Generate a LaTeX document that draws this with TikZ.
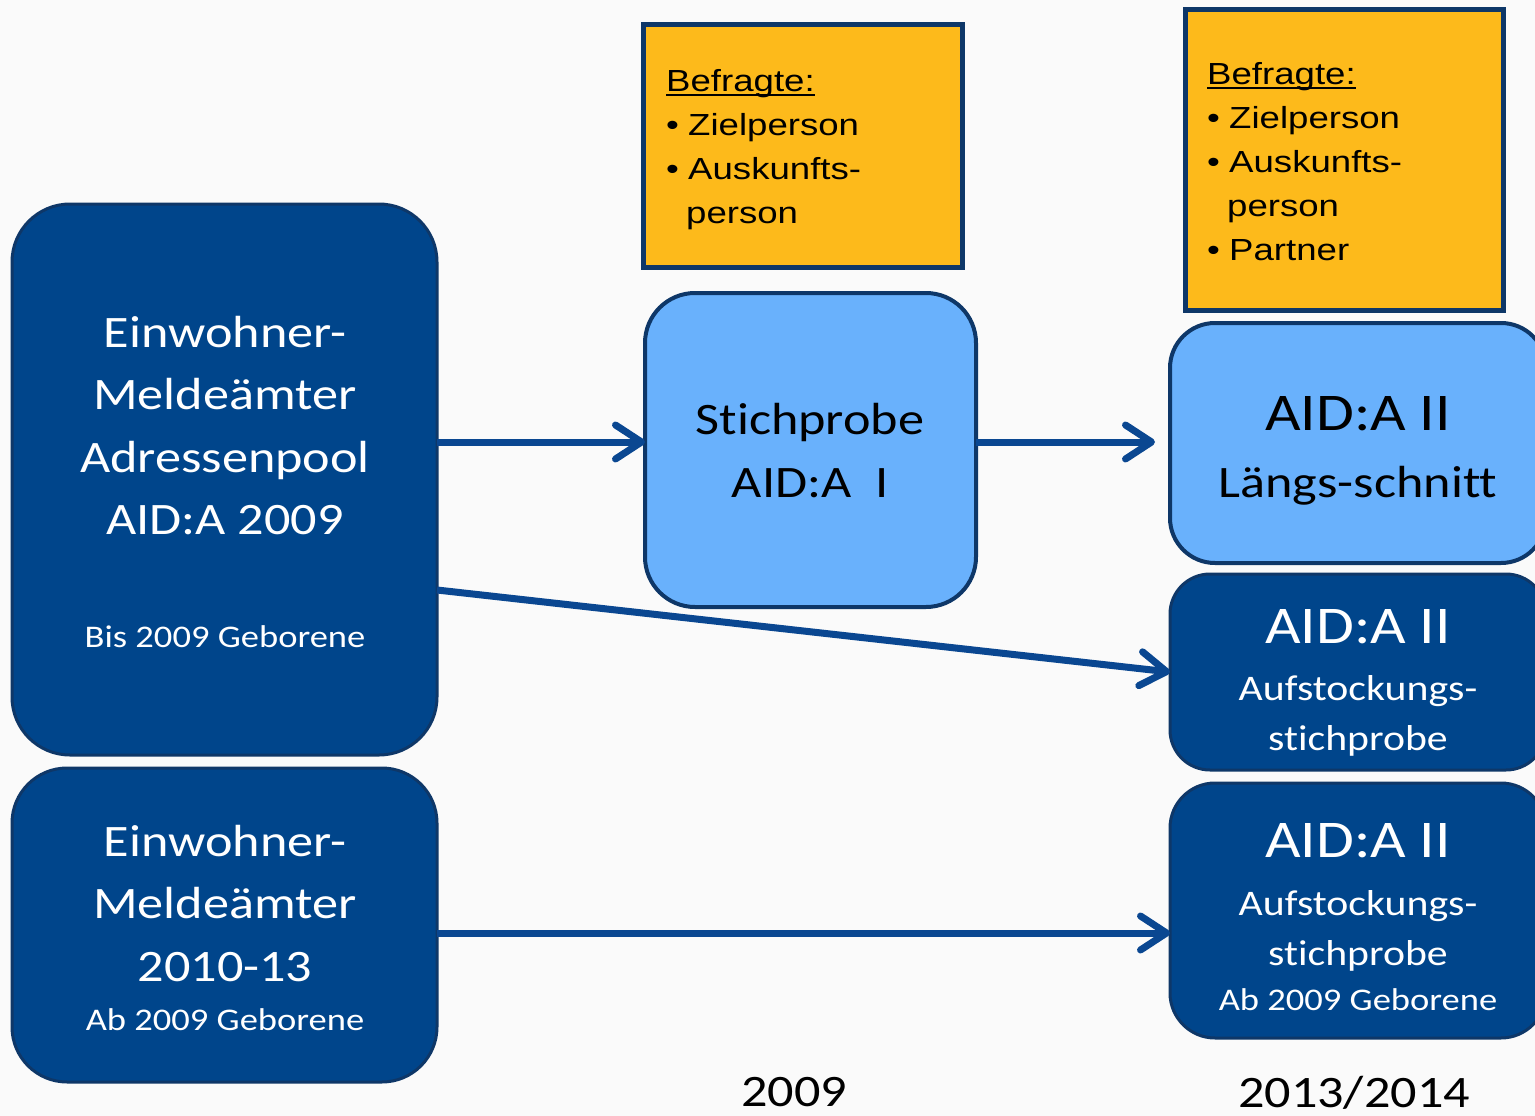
\documentclass[tikz,border=0pt]{standalone}
\usepackage{fontspec}
\setmainfont[FakeStretch=1.16, Ligatures={NoCommon}]{Carlito}
\newfontfamily\arialf[FakeStretch=1.2]{Liberation Sans}
\usetikzlibrary{arrows.meta}
\definecolor{darkfill}{HTML}{00458B}
\definecolor{boxedge}{HTML}{0E3768}
\definecolor{lightfill}{HTML}{69B1FC}
\definecolor{orangefill}{HTML}{FDBA1B}
\definecolor{arrowcol}{HTML}{0A4791}
\definecolor{bgcol}{HTML}{FAFAFA}
\newcommand{\ulword}[1]{\leavevmode\rlap{\rule[-5pt]{\widthof{#1}}{2.2pt}}#1}
\usepackage{calc}
\begin{document}
\begin{tikzpicture}[x=1pt,y=-1pt,
  darkbox/.style={draw=boxedge, line width=3pt, fill=darkfill, rectangle, inner sep=0pt, outer sep=0pt},
  lightbox/.style={draw=boxedge, line width=4pt, fill=lightfill, rectangle, inner sep=0pt, outer sep=0pt},
  orangebox/.style={draw=boxedge, line width=5pt, fill=orangefill, rectangle, inner sep=0pt, outer sep=0pt},
  wtxt/.style={text=white, align=center, inner sep=0pt, anchor=base},
  btxt/.style={text=black, align=center, inner sep=0pt, anchor=base},
  otxt/.style={text=black, align=left, inner sep=0pt, anchor=base west, font=\arialf\fontsize{30.5}{44}\selectfont},
  arr/.style={draw=arrowcol, line width=7pt, -{Straight Barb[length=26pt,width=34pt,round]}},
  big/.style={font=\fontsize{45}{62.5}\selectfont},
  mid/.style={font=\fontsize{36}{50}\selectfont},
  small/.style={font=\fontsize{31.5}{40}\selectfont},
  huge/.style={font=\fontsize{53}{62}\selectfont}
]
\useasboundingbox (0,0) rectangle (1535,1116);
\fill[bgcol] (0,0) rectangle (1535,1116);
\clip (0,0) rectangle (1535,1116);

% boxes
\node[darkbox, rounded corners=58pt, minimum width=425pt, minimum height=551pt] (box1) at (224.5,479.5) {};
\node[darkbox, rounded corners=55pt, minimum width=425pt, minimum height=314pt] (box2) at (224.5,925) {};
\node[lightbox, rounded corners=50pt, minimum width=331pt, minimum height=314pt] (stich) at (810.5,450) {};
\node[lightbox, rounded corners=45pt, minimum width=376pt, minimum height=240pt] (laengs) at (1358,443) {};
\node[darkbox, rounded corners=40pt, minimum width=376pt, minimum height=196pt] (auf1) at (1358,672) {};
\node[darkbox, rounded corners=45pt, minimum width=376pt, minimum height=255pt] (auf2) at (1358,910.5) {};
\node[orangebox, minimum width=319pt, minimum height=242pt] (or1) at (802.5,146) {};
\node[orangebox, minimum width=318pt, minimum height=300pt] (or2) at (1344,160) {};

% texts (anchor base = baseline of the last line)
\node[wtxt, big] (t1) at (225,534.5) {Einwohner-\\Meldeämter\\Adressenpool\\AID:A 2009};
\node[wtxt, small] (t1b) at (225,647) {Bis 2009 Geborene};
\node[wtxt, big] (t2) at (225,981) {Einwohner-\\Meldeämter\\2010-13};
\node[wtxt, small] (t2b) at (225,1030) {Ab 2009 Geborene};
\node[btxt, big] (t3) at (810,497) {Stichprobe\\AID:A\ \ I};
\node[btxt, huge] (t4) at (1358,430) {AID:A II};
\node[btxt, big] (t4b) at (1358,497) {Längs-schnitt};
\node[wtxt, huge] (t5) at (1358,643) {AID:A II};
\node[wtxt, mid] (t5b) at (1358,750) {Aufstockungs-\\stichprobe};
\node[wtxt, huge] (t6) at (1358,857) {AID:A II};
\node[wtxt, mid] (t6b) at (1358,965) {Aufstockungs-\\stichprobe};
\node[wtxt, small] (t6c) at (1358,1010) {Ab 2009 Geborene};
\node[btxt, big] (y1) at (794,1106) {2009};
\node[btxt, big] (y2) at (1354,1107) {2013/2014};

\node[otxt] (o1) at (666,223) {\ulword{Befragte:}\\\makebox[22pt][l]{•}Zielperson\\\makebox[22pt][l]{•}Auskunfts-\\\hspace*{20pt}person};
\node[otxt] (o2) at (1207,260) {\ulword{Befragte:}\\\makebox[22pt][l]{•}Zielperson\\\makebox[22pt][l]{•}Auskunfts-\\\hspace*{20pt}person\\\makebox[22pt][l]{•}Partner};

% arrows
\draw[arr] ([yshift=37.5pt]box1.east) -- ([yshift=8pt]stich.west);
\draw[arr, shorten >=15pt] ([yshift=8pt]stich.east) -- ([yshift=1pt]laengs.west);
\draw[arr] ([yshift=-110.5pt]box1.east) -- (auf1.west);
\draw[arr] ([yshift=-8pt]box2.east) -- ([yshift=-22.5pt]auf2.west);
\end{tikzpicture}
\end{document}
